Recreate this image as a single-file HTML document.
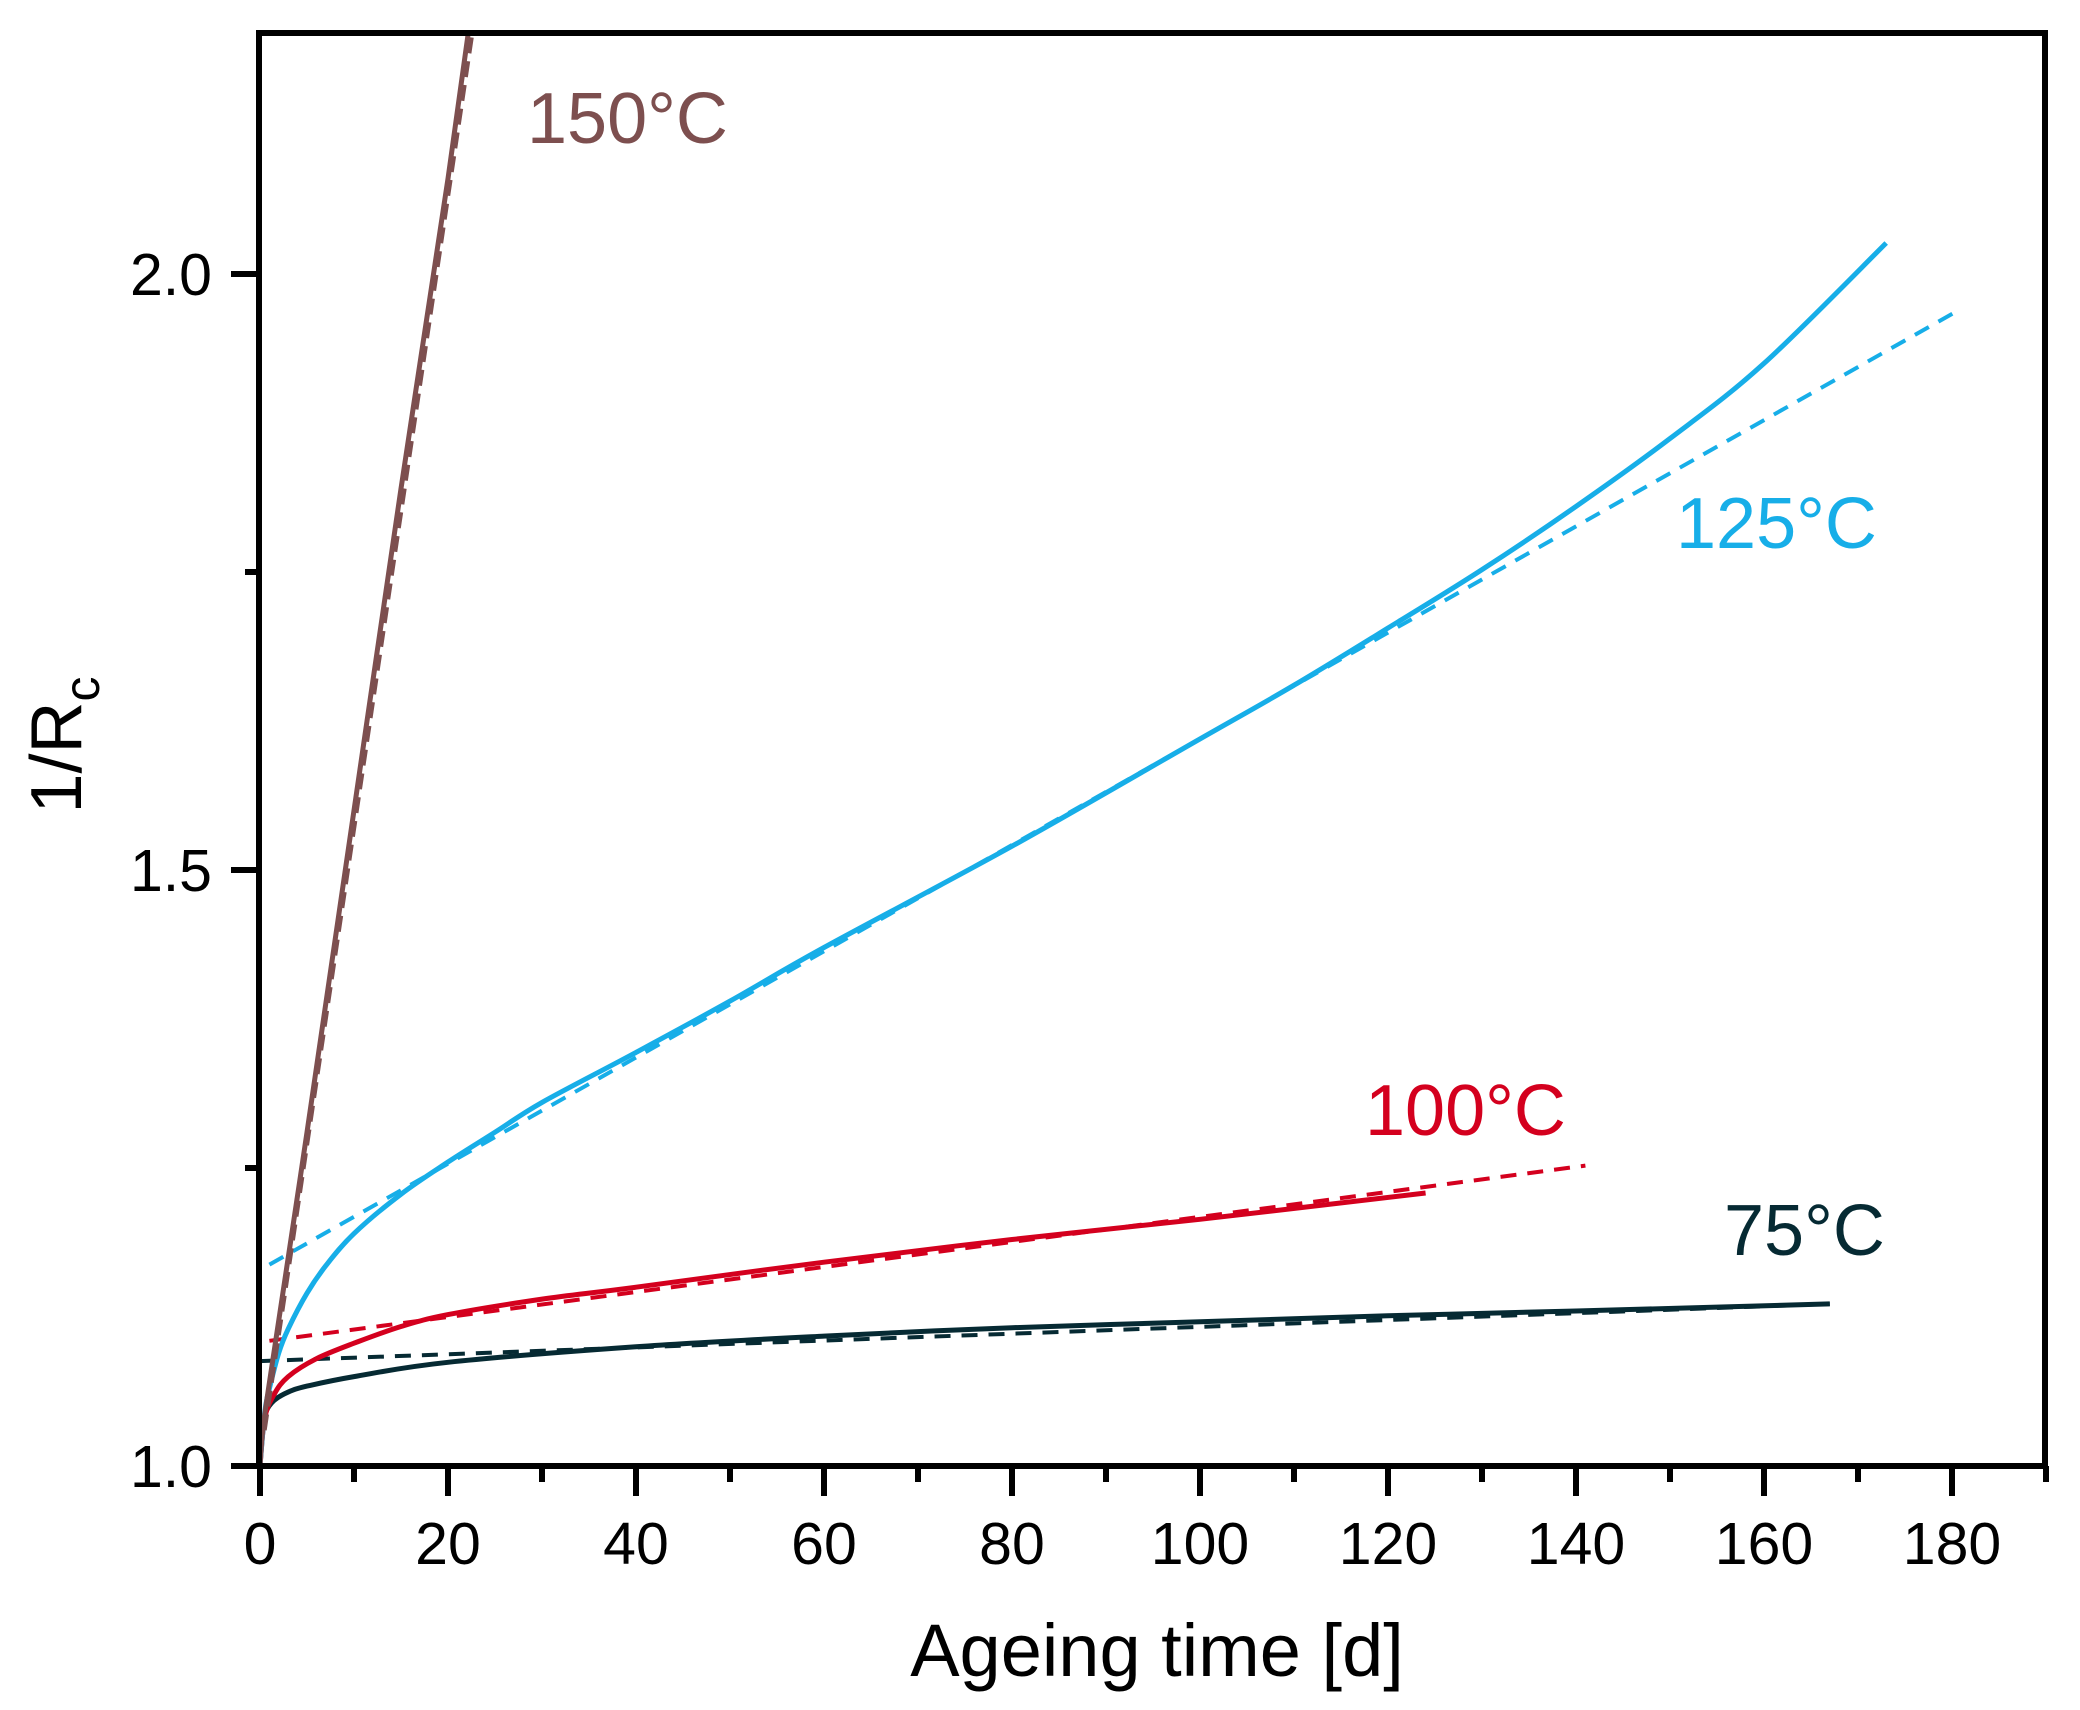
<!DOCTYPE html>
<html><head><meta charset="utf-8"><style>
html,body{margin:0;padding:0;background:#fff}
svg{display:block}
text{font-family:"Liberation Sans",Arial,sans-serif}
</style></head><body>
<svg id="s" width="2080" height="1710" viewBox="0 0 2080 1710" xmlns="http://www.w3.org/2000/svg">
<rect width="2080" height="1710" fill="#fff"/>
<g id="series"></g>
<g id="axes" stroke="#000" stroke-width="6" fill="none">
<rect x="259" y="33" width="1786" height="1433"/>
</g>
<g id="ticks" stroke="#000" stroke-width="6"></g>
<g id="labels" font-size="59" fill="#000"></g>
<text x="1157" y="1676" font-size="74" text-anchor="middle">Ageing time [d]</text>
<text transform="translate(81,745) rotate(-90)" font-size="72" text-anchor="middle">1/R<tspan font-size="50" dy="18">c</tspan></text>
<text x="527" y="143" font-size="72" fill="#7d4f4f">150°C</text>
<text x="1676" y="548" font-size="72" fill="#17aee8">125°C</text>
<text x="1365" y="1135" font-size="72" fill="#d4001e">100°C</text>
<text x="1724" y="1255" font-size="72" fill="#062a33">75°C</text>
</svg>
<script>
var NS="http://www.w3.org/2000/svg";
function X(d){return 260+d*9.4}
function Y(v){return 1466-(v-1)*1192}
function el(p,n,a){var e=document.createElementNS(NS,n);for(var k in a)e.setAttribute(k,a[k]);p.appendChild(e);return e}
var S=document.getElementById('series');
var clip=el(document.getElementById('s'),'clipPath',{id:'c'});
el(clip,'rect',{x:259,y:33,width:1786,height:1433});
S.setAttribute('clip-path','url(#c)');
function line(pts,col,w,dash){
 var P=pts.map(function(p){return [X(p[0]),Y(p[1])]});
 var d='M'+P[0][0].toFixed(1)+' '+P[0][1].toFixed(1);
 if(dash||P.length<3){for(var i=1;i<P.length;i++)d+=' L'+P[i][0].toFixed(1)+' '+P[i][1].toFixed(1);}
 else{
  for(var i=0;i<P.length-1;i++){
   var p0=P[Math.max(i-1,0)],p1=P[i],p2=P[i+1],p3=P[Math.min(i+2,P.length-1)];
   var c1=[p1[0]+(p2[0]-p0[0])/6,p1[1]+(p2[1]-p0[1])/6];
   var c2=[p2[0]-(p3[0]-p1[0])/6,p2[1]-(p3[1]-p1[1])/6];
   d+=' C'+c1[0].toFixed(1)+' '+c1[1].toFixed(1)+' '+c2[0].toFixed(1)+' '+c2[1].toFixed(1)+' '+p2[0].toFixed(1)+' '+p2[1].toFixed(1);
  }
 }
 var a={d:d,stroke:col,'stroke-width':w,fill:'none','stroke-linejoin':'round'};
 if(dash)a['stroke-dasharray']=dash;
 el(S,'path',a);
}
// 75C
line([[0,1.088],[167,1.136]],'#062a33',4,'16 11');
line([[0,1.0],[0.2,1.03],[0.6,1.045],[1.5,1.055],[3,1.062],[5,1.067],[10,1.075],[20,1.087],[40,1.1],[60,1.109],[80,1.116],[100,1.121],[120,1.126],[140,1.13],[167,1.136]],'#062a33',5);
// 100C
line([[1,1.105],[141,1.252]],'#d4001e',4,'16 11');
line([[0,1.0],[0.5,1.04],[1.5,1.06],[3,1.075],[6,1.09],[10,1.103],[15,1.117],[20,1.127],[30,1.14],[40,1.15],[60,1.171],[80,1.19],[100,1.207],[124,1.229]],'#d4001e',5);
// 125C
line([[1,1.169],[181,1.971]],'#17aee8',4,'16 11');
line([[0,1.0],[0.5,1.045],[1,1.065],[2,1.095],[3,1.115],[5,1.145],[7,1.168],[10,1.195],[15,1.228],[20,1.255],[25,1.28],[30,1.305],[40,1.347],[50,1.39],[60,1.435],[80,1.52],[100,1.61],[110,1.655],[120,1.703],[130,1.752],[140,1.805],[150,1.862],[160,1.925],[173,2.026]],'#17aee8',5);
// 150C
line([[0.5,1.03],[23.5,2.25]],'#7d4f4f',4,'16 8');
line([[0,1.0],[0.3,1.03],[1,1.07],[5,1.28],[10,1.55],[15,1.82],[20,2.08],[23,2.25]],'#7d4f4f',5);
// ticks
var T=document.getElementById('ticks'),L=document.getElementById('labels');
for(var d=0;d<=190;d+=10){
 var maj=d%20==0, x=X(d);
 el(T,'line',{x1:x,y1:1466,x2:x,y2:maj?1496:1482});
 if(maj){var t=el(L,'text',{x:x,y:1564,'text-anchor':'middle'});t.textContent=d;}
}
[1.0,1.25,1.5,1.75,2.0].forEach(function(v){
 var y=Y(v),maj=(v*2)%1==0;
 el(T,'line',{x1:259,y1:y,x2:maj?231:245,y2:y});
 if(maj){var t=el(L,'text',{x:212,y:y+21,'text-anchor':'end'});t.textContent=v.toFixed(1);}
});
</script>
</body></html>
